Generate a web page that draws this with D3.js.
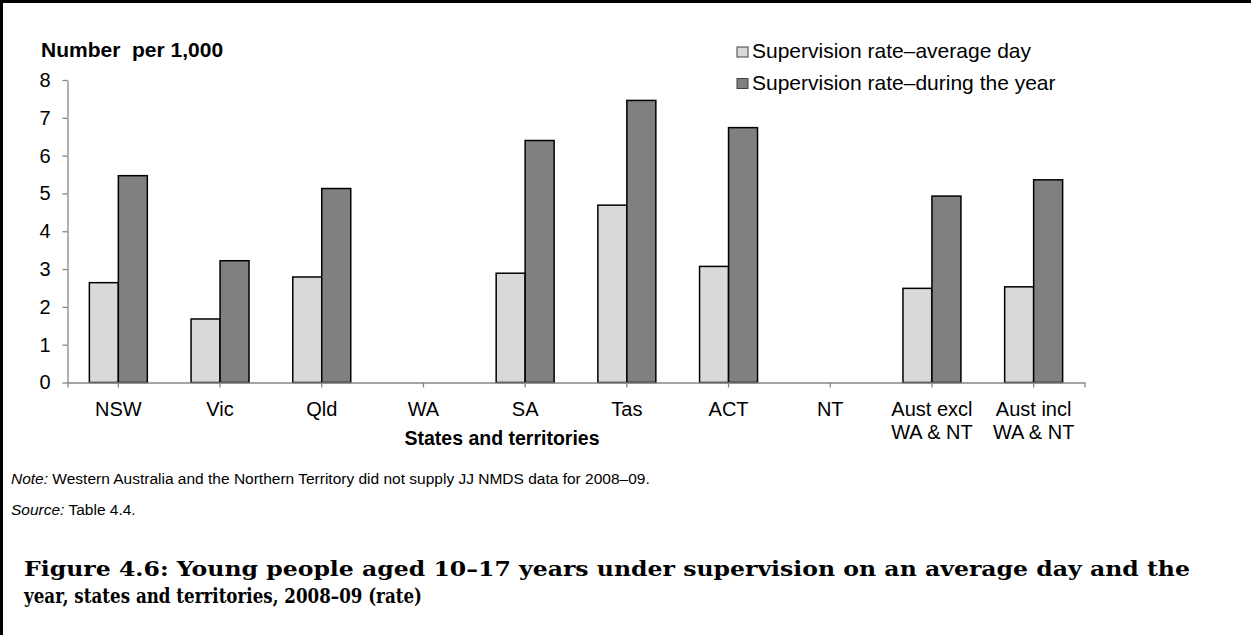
<!DOCTYPE html>
<html>
<head>
<meta charset="utf-8">
<script src="https://cdn.jsdelivr.net/npm/d3@7"></script>
<style>
  body { margin: 0; background: #fff; }
  svg text { font-family: "Liberation Sans", Arial, sans-serif; fill: #000; }
</style>
</head>
<body>
<div id="chart"></div>
<script>
// data
const categories = ["NSW", "Vic", "Qld", "WA", "SA", "Tas", "ACT", "NT", "Aust excl\nWA & NT", "Aust incl\nWA & NT"];
const seriesNames = ["Supervision rate\u2013average day", "Supervision rate\u2013during the year"];
const averageDay = [2.64, 1.68, 2.79, null, 2.89, 4.69, 3.07, null, 2.49, 2.53];
const duringYear = [5.47, 3.22, 5.13, null, 6.40, 7.46, 6.74, null, 4.93, 5.36];
const yTicks = [0, 1, 2, 3, 4, 5, 6, 7, 8];

const W = 1251, H = 635;
const svg = d3.select("#chart").append("svg")
    .attr("width", W).attr("height", H);

// frame (top and left only)
svg.append("line").attr("x1", 0).attr("x2", W).attr("y1", 1.5).attr("y2", 1.5)
    .attr("stroke", "#000").attr("stroke-width", 3);
svg.append("line").attr("x1", 1.5).attr("x2", 1.5).attr("y1", 0).attr("y2", H)
    .attr("stroke", "#000").attr("stroke-width", 3);

const plot = {left: 67.5, right: 1084.5, top: 80, bottom: 382.5};
const colors = ["#d9d9d9", "#808080"];

var x0 = d3.scaleBand()
    .domain(categories)
    .range([plot.left, plot.right])
    .paddingInner(0.43)
    .paddingOuter(0.215);
var x1 = d3.scaleBand()
    .domain([0, 1])
    .range([0, x0.bandwidth()]);
var y = d3.scaleLinear()
    .domain([0, 8])
    .range([plot.bottom, plot.top]);

// y axis
var yAxis = svg.append("g")
    .attr("transform", "translate(" + plot.left + ",0)")
    .call(d3.axisLeft(y).tickValues(yTicks).tickSize(5).tickSizeOuter(0).tickPadding(12));
yAxis.selectAll("path, line").attr("stroke", "#868686").attr("stroke-width", 1.3);
yAxis.selectAll("text").style("font-size", "20px");

// bars
const rows = categories.map((c, i) => ({cat: c, vals: [averageDay[i], duringYear[i]]}));
const groups = svg.append("g").selectAll("g")
    .data(rows).enter().append("g")
    .attr("transform", d => "translate(" + x0(d.cat) + ",0)");
groups.selectAll("rect")
    .data(d => d.vals.map((v, k) => ({k: k, v: v})).filter(e => e.v !== null))
    .enter().append("rect")
    .attr("x", d => x1(d.k))
    .attr("width", x1.bandwidth())
    .attr("y", d => y(d.v))
    .attr("height", d => y(0) - y(d.v))
    .attr("fill", d => colors[d.k])
    .attr("stroke", "#000")
    .attr("stroke-width", 1.5);

// x axis
var xAxis = svg.append("g")
    .attr("transform", "translate(0," + plot.bottom + ")")
    .call(d3.axisBottom(x0).tickSizeInner(5).tickSizeOuter(5).tickFormat(""));
xAxis.selectAll("path, line").attr("stroke", "#868686").attr("stroke-width", 1.3);

const xLabels = svg.append("g");
categories.forEach(c => {
    const t = xLabels.append("text")
        .attr("x", x0(c) + x0.bandwidth() / 2)
        .attr("y", 416)
        .attr("text-anchor", "middle")
        .style("font-size", "20px");
    c.split("\n").forEach((part, i) => {
        t.append("tspan").attr("x", x0(c) + x0.bandwidth() / 2)
            .attr("dy", i === 0 ? 0 : 23).text(part);
    });
});

// axis titles
svg.append("text")
    .attr("x", 41).attr("y", 57)
    .style("font-size", "21px").style("font-weight", "bold")
    .text("Number\u00a0 per 1,000");
svg.append("text")
    .attr("x", 502).attr("y", 445)
    .attr("text-anchor", "middle")
    .style("font-size", "19.5px").style("font-weight", "bold")
    .text("States and territories");

// legend
const legend = svg.append("g");
seriesNames.forEach((name, i) => {
    legend.append("rect")
        .attr("x", 737).attr("y", 47 + i * 31.5)
        .attr("width", 11).attr("height", 10)
        .attr("fill", colors[i]).attr("stroke", "#404040").attr("stroke-width", 1);
    legend.append("text")
        .attr("x", 752).attr("y", 58 + i * 31.5)
        .style("font-size", "21px")
        .text(name);
});

// notes
const note = svg.append("text").attr("x", 11).attr("y", 484).style("font-size", "15.5px");
note.append("tspan").style("font-style", "italic").text("Note:");
note.append("tspan").text(" Western Australia and the Northern Territory did not supply JJ NMDS data for 2008\u201309.");
const source = svg.append("text").attr("x", 11).attr("y", 515).style("font-size", "15.5px");
source.append("tspan").style("font-style", "italic").text("Source:");
source.append("tspan").text(" Table 4.4.");

// caption
const captionLines = [
    "Figure 4.6: Young people aged 10\u201317 years under supervision on an average day and the",
    "year, states and territories, 2008\u201309 (rate)"
];
const captionWidths = [1166, 398];
captionLines.forEach((line, i) => {
    svg.append("text")
        .attr("x", 24).attr("y", 576 + i * 27)
        .attr("textLength", captionWidths[i])
        .attr("lengthAdjust", "spacingAndGlyphs")
        .style("font-family", "'DejaVu Serif', serif")
        .style("font-size", "20px").style("font-weight", "bold")
        .text(line);
});
</script>
</body>
</html>
